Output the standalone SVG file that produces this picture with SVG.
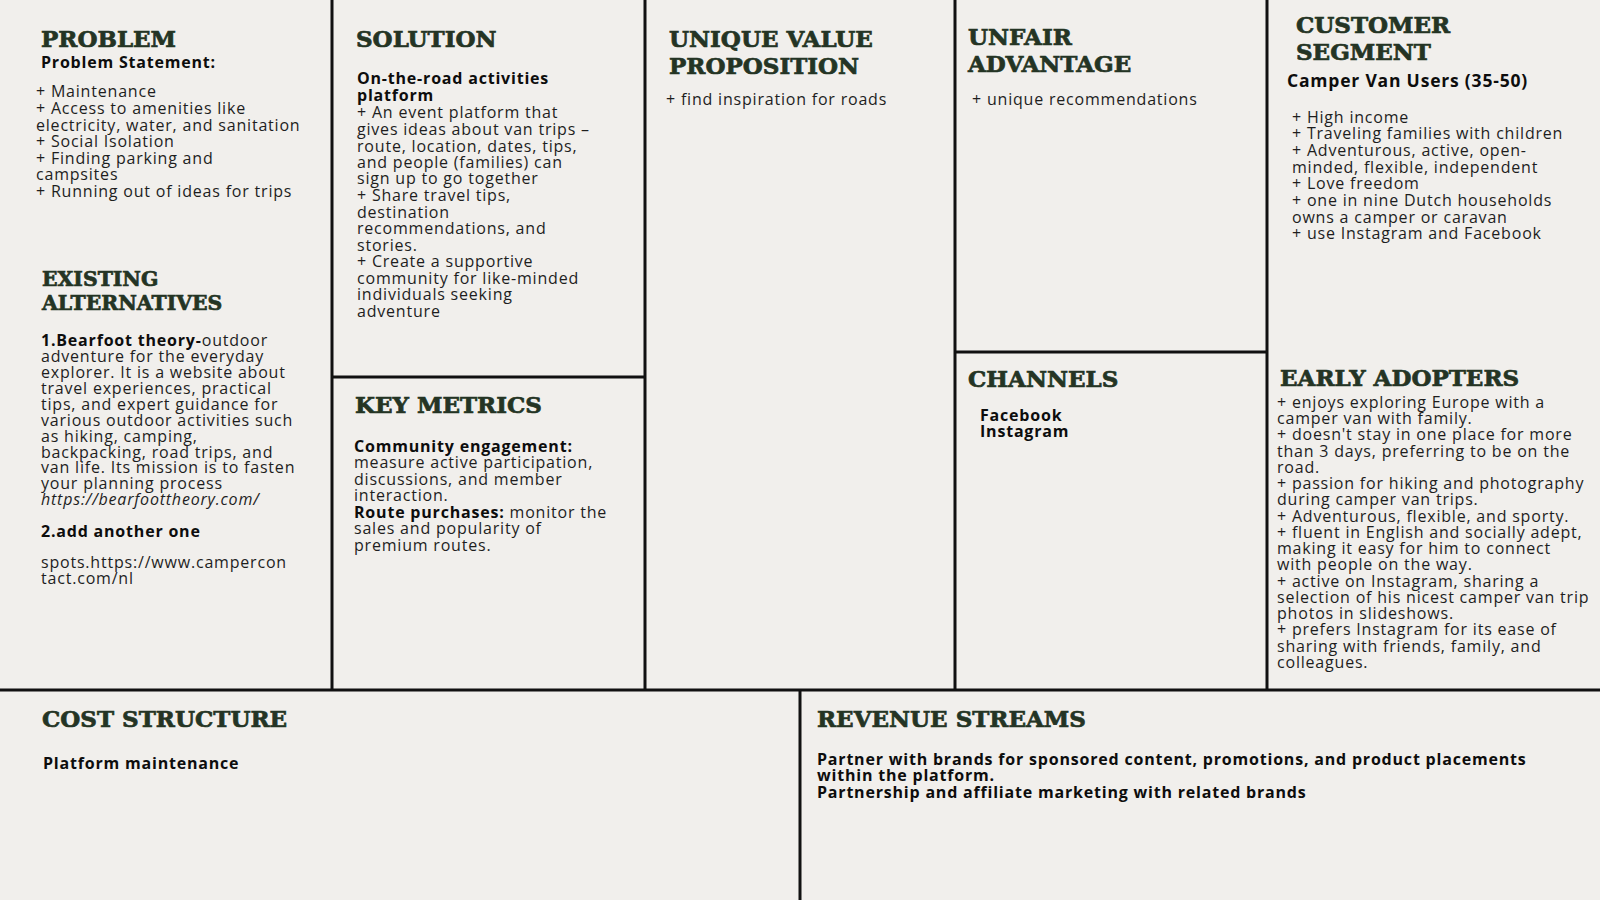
<svg xmlns="http://www.w3.org/2000/svg" width="1600" height="900" viewBox="0 0 1600 900">
  <style>
    .hd { font-family: "DejaVu Serif", "Liberation Serif", serif; font-weight: bold; font-size: 23px; fill: #243424; stroke: #243424; stroke-width: 0.7; }
    .hs { font-size: 20.4px; }
    .bd { font-family: "Open Sans", "Noto Sans", sans-serif; font-size: 16px; letter-spacing: 0.8px; fill: #1e1e1e; }
    .b { font-family: "Open Sans", "Noto Sans", sans-serif; font-weight: bold; font-size: 16px; letter-spacing: 0.8px; fill: #0d0d0d; }
    .it { font-style: italic; }
    .ln { stroke: #111; stroke-width: 3; fill: none; }
  </style>

  <rect width="1600" height="900" fill="#f1efec"/>

  <!-- canvas grid -->
  <g id="connectors">
    <line class="ln" x1="0" y1="690" x2="1600" y2="690"/>
    <line class="ln" x1="332" y1="0" x2="332" y2="690"/>
    <line class="ln" x1="645" y1="0" x2="645" y2="690"/>
    <line class="ln" x1="955" y1="0" x2="955" y2="690"/>
    <line class="ln" x1="1267" y1="0" x2="1267" y2="690"/>
    <line class="ln" x1="332" y1="377" x2="645" y2="377"/>
    <line class="ln" x1="955" y1="352" x2="1267" y2="352"/>
    <line class="ln" x1="800" y1="690" x2="800" y2="900"/>
  </g>

  <g id="problem">
    <text class="hd" x="41" y="47">PROBLEM</text>
    <text class="b" x="41" y="68">Problem Statement:</text>
    <text class="bd">
      <tspan x="36" y="97">+ Maintenance</tspan>
      <tspan x="36" y="114">+ Access to amenities like</tspan>
      <tspan x="36" y="130.5">electricity, water, and sanitation</tspan>
      <tspan x="36" y="147">+ Social Isolation</tspan>
      <tspan x="36" y="163.5">+ Finding parking and</tspan>
      <tspan x="36" y="180">campsites</tspan>
      <tspan x="36" y="196.5">+ Running out of ideas for trips</tspan>
    </text>
  </g>

  <g id="existing-alternatives">
    <text class="hd hs" x="42" y="286">EXISTING</text>
    <text class="hd hs" x="42" y="310">ALTERNATIVES</text>
    <text class="bd">
      <tspan x="41" y="346"><tspan class="b">1.Bearfoot theory-</tspan>outdoor</tspan>
      <tspan x="41" y="362">adventure for the everyday</tspan>
      <tspan x="41" y="378">explorer. It is a website about</tspan>
      <tspan x="41" y="394">travel experiences, practical</tspan>
      <tspan x="41" y="410">tips, and expert guidance for</tspan>
      <tspan x="41" y="426">various outdoor activities such</tspan>
      <tspan x="41" y="442">as hiking, camping,</tspan>
      <tspan x="41" y="457.5">backpacking, road trips, and</tspan>
      <tspan x="41" y="473">van life. Its mission is to fasten</tspan>
      <tspan x="41" y="489">your planning process</tspan>
      <tspan x="41" y="505" class="it">https://bearfoottheory.com/</tspan>
    </text>
    <text class="b" x="41" y="536.5">2.add another one</text>
    <text class="bd">
      <tspan x="41" y="568">spots.https://www.campercon</tspan>
      <tspan x="41" y="584">tact.com/nl</tspan>
    </text>
  </g>

  <g id="solution">
    <text class="hd" x="356" y="47">SOLUTION</text>
    <text class="b">
      <tspan x="357" y="84">On-the-road activities</tspan>
      <tspan x="357" y="100.5">platform</tspan>
    </text>
    <text class="bd">
      <tspan x="357" y="118">+ An event platform that</tspan>
      <tspan x="357" y="135">gives ideas about van trips –</tspan>
      <tspan x="357" y="151.5">route, location, dates, tips,</tspan>
      <tspan x="357" y="167.5">and people (families) can</tspan>
      <tspan x="357" y="184">sign up to go together</tspan>
      <tspan x="357" y="201">+ Share travel tips,</tspan>
      <tspan x="357" y="217.5">destination</tspan>
      <tspan x="357" y="234">recommendations, and</tspan>
      <tspan x="357" y="250.5">stories.</tspan>
      <tspan x="357" y="267">+ Create a supportive</tspan>
      <tspan x="357" y="284">community for like-minded</tspan>
      <tspan x="357" y="300">individuals seeking</tspan>
      <tspan x="357" y="316.5">adventure</tspan>
    </text>
  </g>

  <g id="key-metrics">
    <text class="hd" x="355" y="413">KEY METRICS</text>
    <text class="b" x="354" y="451.5">Community engagement:</text>
    <text class="bd">
      <tspan x="354" y="468">measure active participation,</tspan>
      <tspan x="354" y="485">discussions, and member</tspan>
      <tspan x="354" y="501">interaction.</tspan>
      <tspan x="354" y="517.5"><tspan class="b">Route purchases:</tspan> monitor the</tspan>
      <tspan x="354" y="534">sales and popularity of</tspan>
      <tspan x="354" y="551">premium routes.</tspan>
    </text>
  </g>

  <g id="unique-value-proposition">
    <text class="hd" x="669" y="47">UNIQUE VALUE</text>
    <text class="hd" x="669" y="73.5">PROPOSITION</text>
    <text class="bd" x="666" y="105">+ find inspiration for roads</text>
  </g>

  <g id="unfair-advantage">
    <text class="hd" x="968" y="45">UNFAIR</text>
    <text class="hd" x="968" y="71.5">ADVANTAGE</text>
    <text class="bd" x="972" y="105">+ unique recommendations</text>
  </g>

  <g id="customer-segment">
    <text class="hd" x="1296" y="33">CUSTOMER</text>
    <text class="hd" x="1296" y="59.5">SEGMENT</text>
    <text class="b" x="1287" y="86.5" style="font-size:17.5px">Camper Van Users (35-50)</text>
    <text class="bd">
      <tspan x="1292" y="122.5">+ High income</tspan>
      <tspan x="1292" y="139">+ Traveling families with children</tspan>
      <tspan x="1292" y="156">+ Adventurous, active, open-</tspan>
      <tspan x="1292" y="172.5">minded, flexible, independent</tspan>
      <tspan x="1292" y="189">+ Love freedom</tspan>
      <tspan x="1292" y="206">+ one in nine Dutch households</tspan>
      <tspan x="1292" y="222.5">owns a camper or caravan</tspan>
      <tspan x="1292" y="239">+ use Instagram and Facebook</tspan>
    </text>
  </g>

  <g id="channels">
    <text class="hd" x="968" y="386.5">CHANNELS</text>
    <text class="b">
      <tspan x="980" y="421">Facebook</tspan>
      <tspan x="980" y="437">Instagram</tspan>
    </text>
  </g>

  <g id="early-adopters">
    <text class="hd" x="1280" y="386">EARLY ADOPTERS</text>
    <text class="bd">
      <tspan x="1277" y="407.5">+ enjoys exploring Europe with a</tspan>
      <tspan x="1277" y="423.5">camper van with family.</tspan>
      <tspan x="1277" y="440">+ doesn't stay in one place for more</tspan>
      <tspan x="1277" y="456.5">than 3 days, preferring to be on the</tspan>
      <tspan x="1277" y="472.5">road.</tspan>
      <tspan x="1277" y="489">+ passion for hiking and photography</tspan>
      <tspan x="1277" y="505">during camper van trips.</tspan>
      <tspan x="1277" y="521.5">+ Adventurous, flexible, and sporty.</tspan>
      <tspan x="1277" y="537.5">+ fluent in English and socially adept,</tspan>
      <tspan x="1277" y="554">making it easy for him to connect</tspan>
      <tspan x="1277" y="570">with people on the way.</tspan>
      <tspan x="1277" y="586.5">+ active on Instagram, sharing a</tspan>
      <tspan x="1277" y="602.5">selection of his nicest camper van trip</tspan>
      <tspan x="1277" y="619">photos in slideshows.</tspan>
      <tspan x="1277" y="635">+ prefers Instagram for its ease of</tspan>
      <tspan x="1277" y="651.5">sharing with friends, family, and</tspan>
      <tspan x="1277" y="667.5">colleagues.</tspan>
    </text>
  </g>

  <g id="cost-structure">
    <text class="hd" x="42" y="726.5">COST STRUCTURE</text>
    <text class="b" x="43" y="769">Platform maintenance</text>
  </g>

  <g id="revenue-streams">
    <text class="hd" x="817" y="726.5">REVENUE STREAMS</text>
    <text class="b">
      <tspan x="817" y="765">Partner with brands for sponsored content, promotions, and product placements</tspan>
      <tspan x="817" y="781">within the platform.</tspan>
      <tspan x="817" y="797.5">Partnership and affiliate marketing with related brands</tspan>
    </text>
  </g>
</svg>
